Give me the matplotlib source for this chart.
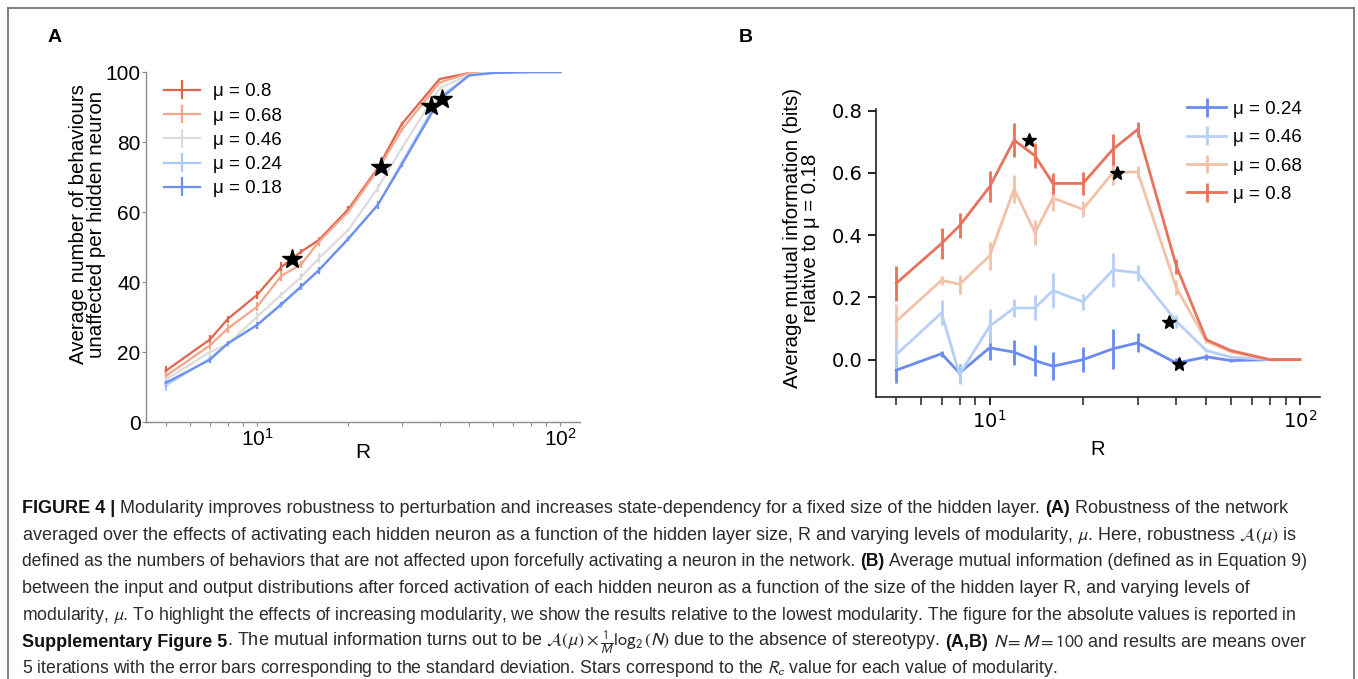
import matplotlib
matplotlib.use('Agg')
import matplotlib.pyplot as plt
from matplotlib.lines import Line2D

# ---------------- data ----------------
R = [5, 7, 8, 10, 12, 14, 16, 20, 25, 30, 40, 50, 60, 80, 100]

# Panel A: robustness
a_labels = ['μ = 0.8', 'μ = 0.68', 'μ = 0.46', 'μ = 0.24', 'μ = 0.18']
a_08 = [14.6, 23.6, 29.4, 36.3, 44.2, 48.7, 52.0, 60.8, 72.5, 85.1, 98.0, 99.7, 100, 100, 100]
a_068 = [13.1, 21.9, 26.7, 32.9, 41.7, 45.1, 51.5, 60.1, 72.0, 83.5, 97.0, 99.7, 100, 100, 100]
a_046 = [12.1, 20.0, 22.2, 30.1, 36.3, 41.5, 46.8, 54.9, 66.8, 78.2, 95.4, 99.2, 100, 100, 100]
a_024 = [10.5, 18.1, 22.4, 27.7, 33.4, 38.6, 43.4, 52.5, 62.0, 74.0, 92.8, 99.0, 99.8, 100, 100]
a_018 = [11.2, 17.8, 22.4, 27.7, 33.6, 38.8, 43.4, 52.3, 62.0, 73.5, 92.1, 99.0, 99.7, 100, 100]
a_08_err = [1.3, 1.3, 1.0, 1.2, 1.5, 0.8, 0.8, 0.8, 0.6, 0.5, 0.3, 0.1, 0, 0, 0]
a_068_err = [1.2, 1.0, 1.2, 1.3, 1.5, 1.0, 1.3, 0.7, 0.7, 0.5, 0.4, 0.1, 0, 0, 0]
a_046_err = [1.0, 1.0, 0.8, 1.2, 0.8, 1.0, 1.5, 0.6, 1.2, 0.7, 0.5, 0.2, 0, 0, 0]
a_024_err = [1.5, 0.8, 0.8, 1.0, 0.8, 1.0, 0.8, 0.6, 1.2, 0.6, 0.4, 0.2, 0, 0, 0]
a_018_err = [1.2, 0.8, 0.8, 1.0, 0.8, 1.0, 1.0, 0.6, 1.2, 0.7, 0.5, 0.2, 0, 0, 0]
a_star_R = [13.0, 25.6, 37.4, 40.8]
a_star_v = [46.5, 73.0, 90.2, 92.4]

# Panel B: mutual information relative to mu = 0.18
b_labels = ['μ = 0.24', 'μ = 0.46', 'μ = 0.68', 'μ = 0.8']
b_024 = [-0.034, 0.019, -0.043, 0.038, 0.024, -0.003, -0.021, 0.0, 0.035, 0.054, -0.011, 0.009, -0.003, 0.0, 0.0]
b_046 = [0.016, 0.150, -0.048, 0.107, 0.166, 0.166, 0.222, 0.186, 0.288, 0.279, 0.123, 0.029, 0.008, 0.0, 0.0]
b_068 = [0.123, 0.255, 0.242, 0.333, 0.548, 0.408, 0.519, 0.483, 0.601, 0.603, 0.231, 0.059, 0.025, 0.0, 0.0]
b_08 = [0.245, 0.373, 0.430, 0.555, 0.705, 0.655, 0.566, 0.566, 0.676, 0.739, 0.300, 0.064, 0.029, 0.0, 0.0]
b_024_err = [0.040, 0.010, 0.030, 0.040, 0.040, 0.050, 0.045, 0.040, 0.065, 0.030, 0.015, 0.010, 0.004, 0, 0]
b_046_err = [0.050, 0.040, 0.030, 0.055, 0.030, 0.040, 0.055, 0.025, 0.055, 0.025, 0.020, 0.006, 0.004, 0, 0]
b_068_err = [0.056, 0.015, 0.030, 0.045, 0.045, 0.040, 0.040, 0.025, 0.040, 0.020, 0.025, 0.006, 0.004, 0, 0]
b_08_err = [0.056, 0.050, 0.040, 0.050, 0.055, 0.040, 0.035, 0.038, 0.050, 0.024, 0.024, 0.006, 0.004, 0, 0]
b_star_R = [13.4, 25.8, 38.0, 40.9]
b_star_v = [0.705, 0.601, 0.120, -0.013]

# ---------------- styles ----------------
a_colors = ['#e0654f', '#f4a688', '#dcdcdc', '#aac8fb', '#6d8ff0']
b_colors = ['#6a8bef', '#b7cff7', '#f1c1a8', '#e8735a']
FONT = 'Liberation Sans'

W, H = 1358, 679
fig = plt.figure(figsize=(W / 100, H / 100), dpi=100)
fig.patch.set_facecolor('white')

def fx(px):
    return px / W

def fy(py):
    return 1 - py / H

# ---------------- Panel A ----------------
axA = fig.add_axes([fx(146), fy(422), fx(580) - fx(146), fy(72) - fy(422)])
a_series = [a_08, a_068, a_046, a_024, a_018]
a_errs = [a_08_err, a_068_err, a_046_err, a_024_err, a_018_err]
for vals, errs, col, lab in zip(a_series, a_errs, a_colors, a_labels):
    axA.errorbar(R, vals, yerr=errs, color=col, lw=1.6, elinewidth=1.6, label=lab)
axA.plot(a_star_R, a_star_v, ls='none', marker='*', ms=15, color='black', zorder=10)
axA.set_xscale('log')
axA.set_ylim(0, 100)
axA.set_yticks([0, 20, 40, 60, 80, 100])
for s in ['top', 'right']:
    axA.spines[s].set_visible(False)
for s in ['left', 'bottom']:
    axA.spines[s].set_color('#8a8a8a')
    axA.spines[s].set_linewidth(1.0)
axA.tick_params(axis='both', which='both', direction='out', color='#8a8a8a', length=3, width=0.8,
                labelsize=15, pad=1)
axA.set_xlabel('R', fontsize=15, family=FONT, labelpad=-5)
axA.set_ylabel('Average number of behaviours\nunaffected per hidden neuron', fontsize=14.8,
               family=FONT, linespacing=0.95)
axA.yaxis.set_label_coords(-0.092, 0.565)
for lab in axA.get_xticklabels() + axA.get_yticklabels():
    lab.set_family(FONT)
axA.legend(loc='upper left', bbox_to_anchor=(0.016, 1.0), frameon=False,
           prop={'family': FONT, 'size': 13.5}, handlelength=1.9,
           handletextpad=0.7, labelspacing=0.38, borderaxespad=0.2)
fig.text(fx(55), fy(37), 'A', fontsize=14, fontweight='bold', family=FONT,
         ha='center', va='center')

# ---------------- Panel B ----------------
axB = fig.add_axes([fx(876), fy(397), fx(1320) - fx(876), fy(109) - fy(397)])
b_series = [b_024, b_046, b_068, b_08]
b_errs = [b_024_err, b_046_err, b_068_err, b_08_err]
for vals, errs, col, lab in zip(b_series, b_errs, b_colors, b_labels):
    axB.errorbar(R, vals, yerr=errs, color=col, lw=2.0, elinewidth=2.0, label=lab)
axB.plot(b_star_R, b_star_v, ls='none', marker='*', ms=10, color='black', zorder=10)
axB.set_xscale('log')
axB.set_ylim(-0.12, 0.805)
axB.set_yticks([0.0, 0.2, 0.4, 0.6, 0.8])
axB.set_yticklabels(['0.0', '0.2', '0.4', '0.6', '0.8'])
for s in ['top', 'right']:
    axB.spines[s].set_visible(False)
for s in ['left', 'bottom']:
    axB.spines[s].set_color('#222222')
    axB.spines[s].set_linewidth(1.2)
axB.tick_params(axis='both', which='major', direction='out', length=6, width=1.4,
                labelsize=14, color='#222222')
axB.tick_params(axis='x', which='minor', direction='out', length=6, width=1.1, color='#222222')
axB.set_xlabel('R', fontsize=14.5, family=FONT, labelpad=6)
axB.set_ylabel('Average mutual information (bits)\nrelative to μ = 0.18', fontsize=14.7,
               family=FONT, linespacing=0.95)
axB.yaxis.set_label_coords(-0.125, 0.552)
axB.legend(loc='upper right', bbox_to_anchor=(0.977, 1.055), frameon=False,
           prop={'family': FONT, 'size': 13.5}, handlelength=2.1, handletextpad=0.37,
           labelspacing=0.6, borderaxespad=0.0)
fig.text(fx(746), fy(37), 'B', fontsize=14, fontweight='bold', family=FONT,
         ha='center', va='center')

# ---------------- border ----------------
bc = '#6b6b6b'
fig.add_artist(Line2D([fx(8), fx(8)], [fy(8), fy(680)], color=bc, lw=1.2, transform=fig.transFigure))
fig.add_artist(Line2D([fx(8), fx(1354)], [fy(8), fy(8)], color=bc, lw=1.2, transform=fig.transFigure))
fig.add_artist(Line2D([fx(1354), fx(1354)], [fy(8), fy(680)], color=bc, lw=1.2, transform=fig.transFigure))

# ---------------- caption ----------------
caption_lines = [
    r"**FIGURE 4 |** Modularity improves robustness to perturbation and increases state-dependency for a fixed size of the hidden layer. **(A)** Robustness of the network",
    r"averaged over the effects of activating each hidden neuron as a function of the hidden layer size, R and varying levels of modularity, $\mu$. Here, robustness $\mathcal{A}(\mu)$ is",
    r"defined as the numbers of behaviors that are not affected upon forcefully activating a neuron in the network. **(B)** Average mutual information (defined as in Equation 9)",
    r"between the input and output distributions after forced activation of each hidden neuron as a function of the size of the hidden layer R, and varying levels of",
    r"modularity, $\mu$. To highlight the effects of increasing modularity, we show the results relative to the lowest modularity. The figure for the absolute values is reported in",
    r"**Supplementary Figure 5**. The mutual information turns out to be $\mathcal{A}(\mu) \times \frac{1}{M}\log_2(N)$ due to the absence of stereotypy. **(A,B)** $N = M = 100$ and results are means over",
    r"5 iterations with the error bars corresponding to the standard deviation. Stars correspond to the $R_c$ value for each value of modularity.",
]
cap_y = [513, 540, 566, 593, 620, 647, 673]
cap_right = [1291, 1296, 1297, 1257, 1297, 1305, 1058]   # right end of each caption line (px)

renderer = fig.canvas.get_renderer()

def parse(line):
    parts = line.split('**')
    segs = []
    prev_trail = False
    for i, p in enumerate(parts):
        if p == '':
            continue
        lead = p.startswith(' ') or prev_trail
        prev_trail = p.endswith(' ')
        segs.append((p.strip(), i % 2 == 1, lead))
    return segs

def make_text(x, y, txt, bold, size):
    return fig.text(x / W, 1 - y / H, txt, fontsize=size, family=FONT,
                    fontweight='bold' if bold else 'normal', math_fontfamily='stixsans',
                    ha='left', va='baseline', color='#111111' if bold else '#2b2b2b')

def space_width(size):
    t1 = make_text(0, 0, 'a a', False, size)
    t2 = make_text(0, 0, 'aa', False, size)
    w = t1.get_window_extent(renderer).width - t2.get_window_extent(renderer).width
    t1.remove(); t2.remove()
    return w

def draw_line(x0, y, segs, size, keep=True):
    sw = space_width(size)
    x = x0
    made = []
    for txt, bold, lead in segs:
        if lead:
            x += sw
        t = make_text(x, y, txt, bold, size)
        x += t.get_window_extent(renderer).width
        made.append(t)
    if not keep:
        for t in made:
            t.remove()
    return x - x0

trial = 10.0
x_left = 22
all_segs = [parse(l) for l in caption_lines]
base_w = draw_line(x_left, 0, all_segs[0], trial, keep=False)
base_size = trial * (cap_right[0] - x_left) / base_w
for segs, y, xr in zip(all_segs, cap_y, cap_right):
    w = draw_line(x_left, 0, segs, trial, keep=False)
    fit = trial * (xr - x_left) / w
    size = min(max(fit, base_size * 0.975), base_size * 1.02)
    draw_line(x_left, y, segs, size)

fig.savefig('out.png', dpi=100, facecolor='white')
